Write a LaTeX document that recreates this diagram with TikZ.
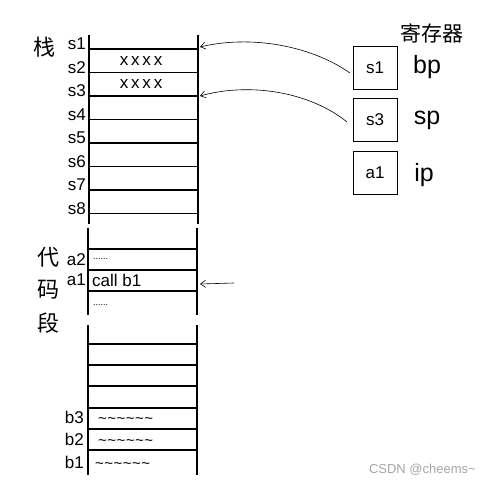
\documentclass[tikz,border=0pt]{standalone}
\usepackage{fontspec}
\setmainfont{Liberation Sans}
\newfontfamily\cjk{Noto Sans CJK SC}
\usetikzlibrary{arrows.meta}
\newcommand\mytil{\textasciitilde\hspace{0.5pt}}
\begin{document}
\begin{tikzpicture}[x=1pt,y=-1pt,
  wall/.style={line width=1.4pt},
  cell/.style={line width=1.2pt},
  lab/.style={font=\fontsize{17}{17}\selectfont, inner sep=0pt, anchor=east},
  reg/.style={draw, line width=0.9pt, minimum width=44pt, minimum height=43pt, inner sep=0pt, font=\fontsize{17}{17}\selectfont},
  regname/.style={font=\fontsize{25}{25}\selectfont, inner sep=0pt},
  han/.style={font=\cjk\fontsize{22}{22}\selectfont, inner sep=0pt},
  ptr/.style={line width=0.6pt, -{Straight Barb[length=5pt,width=7pt]}},
  cont/.style={font=\fontsize{17}{17}\selectfont, inner sep=0pt},
  tild/.style={font=\fontsize{15}{15}\selectfont, inner sep=0pt, anchor=west},
  dots/.style={font=\fontsize{9}{9}\selectfont, inner sep=0pt, anchor=west}]
\useasboundingbox (0,0) rectangle (490,489);
% stack
\draw[wall] (89,35) -- (89,224) (198,35) -- (198,224);
\foreach \i/\y in {1/49,2/72.5,3/96,4/119.5,5/143,6/166.5,7/190,8/213.5}{
  \draw[cell] (89,\y) -- (198,\y);
  \node[lab] (s\i) at (86,\y-5) {s\i};
}
\node[han] (zhan) at (45,47) {栈};
\node[cont] (x2) at (141,61) {x\,x\,x\,x};
\node[cont] (x3) at (141,84) {x\,x\,x\,x};
% code segment top
\draw[wall] (88,228) -- (88,315) (197,228) -- (197,315);
\foreach \y in {249,270,291}{\draw[cell] (88,\y) -- (197,\y);}
\coordinate (ca1) at (200,284);
\coordinate (ta1) at (234,283);
\node[lab] (a2) at (86,260) {a2};
\node[lab] (a1) at (86,280) {a1};
\node[dots] (d1) at (93,259) {......};
\node[cont, anchor=west] (call) at (92,280) {call b1};
\node[dots] (d2) at (93,305) {......};
\node[han] (dai) at (48,257) {代};
\node[han] (ma) at (48,290) {码};
\node[han] (duan) at (48,323) {段};
% code segment bottom
\draw[wall] (88,325) -- (88,475) (197,325) -- (197,475);
\foreach \y in {344,365,386,408,429,450}{\draw[cell] (88,\y) -- (197,\y);}
\node[lab] (b3) at (84,417) {b3};
\node[lab] (b2) at (84,439) {b2};
\node[lab] (b1) at (84,462) {b1};
\node[tild] (t3) at (98,421) {\mytil\mytil\mytil\mytil\mytil\mytil};
\node[tild] (t2) at (98,443) {\mytil\mytil\mytil\mytil\mytil\mytil};
\node[tild] (t1) at (95,466) {\mytil\mytil\mytil\mytil\mytil\mytil};
% registers
\node[han, font=\cjk\fontsize{21}{21}\selectfont] (regs) at (432,33) {寄存器};
\node[reg] (bpbox) at (375,67.5) {s1};
\node[reg] (spbox) at (375,120) {s3};
\node[reg] (ipbox) at (375,172.5) {a1};
\node[regname] (bp) at (427,67) {bp};
\node[regname] (sp) at (427,120) {sp};
\node[regname] (ip) at (424,175) {ip};
\coordinate (o1) at (350,73);
\coordinate (o2) at (347,122);
\coordinate (e1) at (200,47);
\coordinate (e2) at (200,96);
\draw[ptr] (o1) .. controls (310,45) and (250,35) .. (e1);
\draw[ptr] (o2) .. controls (310,92) and (250,82) .. (e2);
\draw[ptr] (ta1) -- (ca1);
% watermark
\node[font=\fontsize{13}{13}\selectfont, text=gray!70, inner sep=0pt, anchor=east] (wm) at (476,470) {CSDN @cheems\textasciitilde};
\end{tikzpicture}
\end{document}
